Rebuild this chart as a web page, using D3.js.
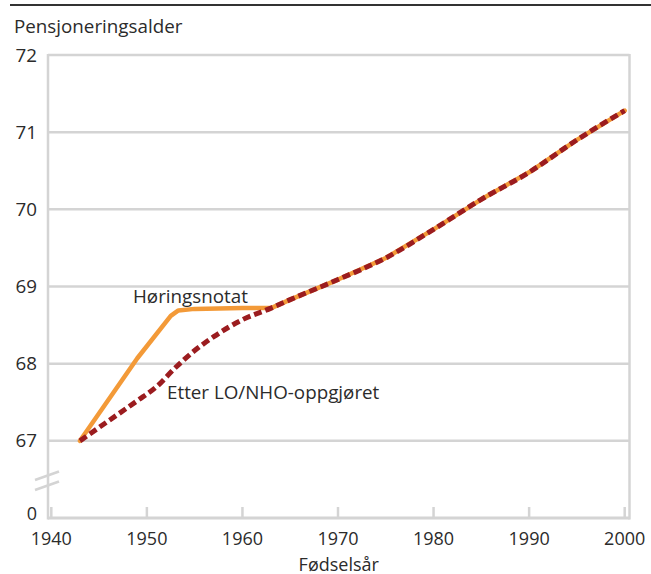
<!DOCTYPE html>
<html>
<head>
<meta charset="utf-8">
<script src="https://cdn.jsdelivr.net/npm/d3@7"></script>
<style>
  body { margin: 0; background: #fff; }
  svg text { font-family: "Open Sans", sans-serif; fill: #2b2b2b; }
</style>
</head>
<body>
<svg id="chart"></svg>
<script>
// fødselsår
var years = [1943, 1946, 1949, 1951, 1953, 1955, 1957, 1960, 1963, 1965, 1970, 1975, 1980, 1985, 1990, 1995, 2000];
// Etter LO/NHO-oppgjøret
var etterLoNho = [67.0, 67.26, 67.52, 67.7, 67.95, 68.17, 68.35, 68.57, 68.72, 68.83, 69.09, 69.37, 69.74, 70.13, 70.48, 70.9, 71.28];
// Høringsnotat (følger LO/NHO-linjen etter 1963)
var horingYears = [1943, 1949, 1952.5, 1953.3, 1955, 1960, 1963];
var horing = [67.0, 68.07, 68.62, 68.69, 68.71, 68.72, 68.72];
var xTicks = [1940, 1950, 1960, 1970, 1980, 1990, 2000];
var yTicks = [67, 68, 69, 70, 71, 72];
var yBreakLabel = "0";

var w = 651, h = 574;
var fs = 18.8;
var fsX = 18;
var svg = d3.select("#chart").attr("width", w).attr("height", h);

var x = d3.scaleLinear().domain([1940, 2000]).range([51.3, 624.7]);
var y = d3.scaleLinear().domain([66, 72]).range([518, 55]);
var left = 48, right = 629.5;

// top rule
svg.append("line")
  .attr("x1", 10).attr("x2", w).attr("y1", 5).attr("y2", 5)
  .attr("stroke", "#333").attr("stroke-width", 2);

svg.append("text")
  .attr("x", 14).attr("y", 33)
  .attr("font-size", fs)
  .text("Pensjoneringsalder");

var grid = "#d4d4d4";

// gridlines
svg.selectAll(".grid")
  .data(yTicks)
  .enter()
  .append("line")
  .attr("x1", left).attr("x2", right)
  .attr("y1", d => y(d)).attr("y2", d => y(d))
  .attr("stroke", grid).attr("stroke-width", 2.5);

// frame left/right/bottom
svg.append("line").attr("x1", left).attr("x2", left).attr("y1", y(72) - 1).attr("y2", y(66) + 1.5)
  .attr("stroke", grid).attr("stroke-width", 2.5);
svg.append("line").attr("x1", right).attr("x2", right).attr("y1", y(72) - 1).attr("y2", y(66) + 1.5)
  .attr("stroke", grid).attr("stroke-width", 2.5);
svg.append("line").attr("x1", left).attr("x2", right).attr("y1", y(66)).attr("y2", y(66))
  .attr("stroke", grid).attr("stroke-width", 3);

// x ticks
svg.selectAll(".xtick")
  .data(xTicks)
  .enter()
  .append("line")
  .attr("x1", d => x(d)).attr("x2", d => x(d))
  .attr("y1", y(66)).attr("y2", y(66) - 11)
  .attr("stroke", grid).attr("stroke-width", 2.5);

svg.selectAll(".xlab")
  .data(xTicks)
  .enter()
  .append("text")
  .attr("x", d => x(d)).attr("y", 544.5)
  .attr("text-anchor", "middle")
  .attr("font-size", fsX)
  .text(d => d);

svg.selectAll(".ylab")
  .data(yTicks)
  .enter()
  .append("text")
  .attr("x", 37).attr("y", d => y(d) + 6.5)
  .attr("text-anchor", "end")
  .attr("font-size", fs)
  .text(d => d);

svg.append("text")
  .attr("x", 37).attr("y", 519.5)
  .attr("text-anchor", "end")
  .attr("font-size", fsX)
  .text(yBreakLabel);

// axis break
[0, 10].forEach(off => {
  svg.append("line")
    .attr("x1", 35).attr("y1", 480 + off)
    .attr("x2", 59).attr("y2", 471.5 + off)
    .attr("stroke", grid).attr("stroke-width", 2.5);
});

svg.append("text")
  .attr("x", (left + right) / 2).attr("y", 570.5)
  .attr("text-anchor", "middle")
  .attr("font-size", fsX)
  .text("Fødselsår");

var line = d3.line().x(d => x(d[0])).y(d => y(d[1])).curve(d3.curveMonotoneX);

var lonhoPts = years.map((yr, i) => [yr, etterLoNho[i]]);

// orange: høringsnotat, continues under the dashed line
var horingAll = horingYears.map((yr, i) => [yr, horing[i]])
  .concat(lonhoPts.filter(p => p[0] > 1963));

svg.append("path")
  .datum(horingAll)
  .attr("d", d3.line().x(d => x(d[0])).y(d => y(d[1])))
  .attr("fill", "none")
  .attr("stroke", "#f39a38")
  .attr("stroke-width", 4.5)
  .attr("stroke-linecap", "round")
  .attr("stroke-linejoin", "round");

svg.append("path")
  .datum(lonhoPts)
  .attr("d", line)
  .attr("fill", "none")
  .attr("stroke", "#9b1c1f")
  .attr("stroke-width", 5)
  .attr("stroke-dasharray", "8,4");

svg.append("text")
  .attr("x", 133).attr("y", 303)
  .attr("font-size", fs)
  .text("Høringsnotat");

svg.append("text")
  .attr("x", 167).attr("y", 399)
  .attr("font-size", fs)
  .text("Etter LO/NHO-oppgjøret");
</script>
</body>
</html>
